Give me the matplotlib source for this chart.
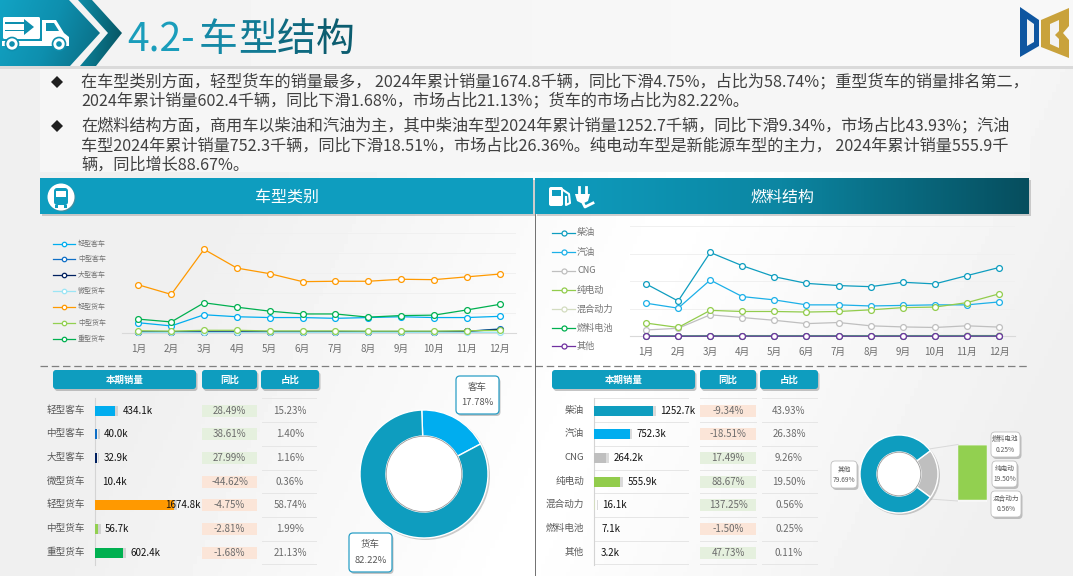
#!/usr/bin/env python3
import numpy as np
import matplotlib
matplotlib.use('Agg')
import matplotlib.pyplot as plt
from matplotlib.patches import Polygon, Rectangle, FancyBboxPatch, Circle
from matplotlib.colors import LinearSegmentedColormap

plt.rcParams['font.family'] = ['Noto Sans CJK SC', 'DejaVu Sans']

W, H = 1073, 576
TEAL = '#0E9DBF'
GRAY_TXT = '#595959'

months = ['1月', '2月', '3月', '4月', '5月', '6月', '7月', '8月', '9月', '10月', '11月', '12月']

# vehicle type, monthly sales (k)
type_names = ['轻型客车', '中型客车', '大型客车', '微型货车', '轻型货车', '中型货车', '重型货车']
type_colors = ['#00ADEF', '#0F6FC6', '#002060', '#9BE5F5', '#FF9900', '#92D050', '#00B050']
light_bus = [25, 17, 45, 40, 38, 38, 36, 38, 40, 38, 38, 41]
medium_bus = [2.5, 2, 3, 3, 3, 3, 3, 3, 3, 3, 3.5, 9.5]
large_bus = [2, 2, 2.5, 3, 2, 2, 2, 2, 2, 2, 3.4, 8]
micro_truck = [1, 0.8, 1, 1, 0.9, 0.9, 0.8, 0.8, 0.8, 0.8, 0.9, 0.9]
light_truck = [120, 96, 209, 162, 148, 128, 129, 129, 134, 133, 140, 147]
medium_truck = [5, 4, 6, 6, 4.5, 4.5, 4.5, 4, 4, 4, 5, 5.7]
heavy_truck = [34, 27, 75, 64, 54, 47, 47, 39, 43, 44, 57, 71]
type_series = [light_bus, medium_bus, large_bus, micro_truck, light_truck, medium_truck, heavy_truck]

type_sales = [434.1, 40.0, 32.9, 10.4, 1674.8, 56.7, 602.4]
type_yoy = [28.49, 38.61, 27.99, -44.62, -4.75, -2.81, -1.68]
type_share = [15.23, 1.40, 1.16, 0.36, 58.74, 1.99, 21.13]

# fuel type, monthly sales (k)
fuel_names = ['柴油', '汽油', 'CNG', '纯电动', '混合动力', '燃料电池', '其他']
fuel_colors = ['#0E9DBF', '#1CB0E8', '#BFBFBF', '#92CC4C', '#D3DCC0', '#00B050', '#7030A0']
diesel = [95, 64, 152, 128, 108, 96, 92, 90, 98, 95, 110, 124.7]
gasoline = [60, 51, 102, 72, 66, 57, 57, 55, 56, 57, 57, 62.3]
cng = [11.5, 14.5, 39, 34, 29, 23, 25, 19, 17, 16, 19, 16.7]
bev = [24, 16, 47, 45, 45, 44, 45, 48, 52, 53, 61, 76.9]
hybrid = [1, 1, 1.4, 1.4, 1.3, 1.3, 1.3, 1.3, 1.4, 1.4, 1.6, 1.6]
fuel_cell = [0.5, 0.4, 0.6, 0.6, 0.6, 0.6, 0.6, 0.6, 0.6, 0.6, 0.6, 0.7]
others = [0.2, 0.2, 0.3, 0.3, 0.3, 0.3, 0.3, 0.2, 0.3, 0.2, 0.3, 0.3]
fuel_series = [diesel, gasoline, cng, bev, hybrid, fuel_cell, others]

fuel_sales = [1252.7, 752.3, 264.2, 555.9, 16.1, 7.1, 3.2]
fuel_yoy = [-9.34, -18.51, 17.49, 88.67, 137.25, -1.50, 47.73]
fuel_share = [43.93, 26.38, 9.26, 19.50, 0.56, 0.25, 0.11]

# donuts
type_donut = [17.78, 82.22]
fuel_donut = [20.31, 79.69]
fuel_stack = [0.56, 19.50, 0.25]

body_lines = [
    '在车型类别方面，轻型货车的销量最多， 2024年累计销量1674.8千辆，同比下滑4.75%，占比为58.74%；重型货车的销量排名第二，',
    '2024年累计销量602.4千辆，同比下滑1.68%，市场占比21.13%；货车的市场占比为82.22%。',
    '在燃料结构方面，商用车以柴油和汽油为主，其中柴油车型2024年累计销量1252.7千辆，同比下滑9.34%，市场占比43.93%；汽油',
    '车型2024年累计销量752.3千辆，同比下滑18.51%，市场占比26.36%。纯电动车型是新能源车型的主力， 2024年累计销量555.9千',
    '辆，同比增长88.67%。',
]

fig = plt.figure(figsize=(W / 100, H / 100), dpi=100)
bg = fig.add_axes([0, 0, 1, 1])
bg.set_xlim(0, W)
bg.set_ylim(H, 0)
bg.axis('off')


def inset(x0, y0, x1, y1):
    # axes placed by pixel box, y0 is the top edge
    ax = fig.add_axes([x0 / W, 1 - y1 / H, (x1 - x0) / W, (y1 - y0) / H])
    ax.patch.set_alpha(0)
    return ax


def gradient(patch, colors, extent, angle=0.0):
    # fill a patch with a horizontal/diagonal gradient
    bg.add_patch(patch)
    patch.set_facecolor('none')
    patch.set_edgecolor('none')
    xx, yy = np.meshgrid(np.linspace(0, 1, 200), np.linspace(0, 1, 100))
    z = xx * np.cos(angle) + yy * np.sin(angle)
    cmap = LinearSegmentedColormap.from_list('g', colors)
    im = bg.imshow(z, extent=extent, cmap=cmap, aspect='auto', zorder=patch.get_zorder())
    im.set_clip_path(patch)
    bg.set_xlim(0, W)
    bg.set_ylim(H, 0)


def round_box(x0, y0, x1, y1, fc, ec='none', lw=0, rad=3, shadow=True, z=3):
    if shadow:
        bg.add_patch(FancyBboxPatch((x0 + 1.5, y0 + 2), x1 - x0, y1 - y0,
                                    boxstyle=f'round,pad=0,rounding_size={rad}',
                                    fc='#808080', ec='none', alpha=0.45, zorder=z - 0.1))
    bg.add_patch(FancyBboxPatch((x0, y0), x1 - x0, y1 - y0,
                                boxstyle=f'round,pad=0,rounding_size={rad}',
                                fc=fc, ec=ec, lw=lw, zorder=z))


# page background
xx, yy = np.meshgrid(np.linspace(0, 1, 256), np.linspace(0, 1, 144))
shade = 0.94 + 0.06 * np.clip(1 - np.abs(xx - 0.55 + 0.25 * (yy - 0.7)) * 2.4, 0, 1)
shade[:17, :] = 0.95 + 0.02 * np.clip(xx[:17, :] * 1.5, 0, 1)
bg.imshow(shade, extent=(0, W, H, 0), cmap='gray', vmin=0, vmax=1, aspect='auto', zorder=0)
bg.set_xlim(0, W)
bg.set_ylim(H, 0)
bg.add_patch(Rectangle((0, 66), W, 3, fc='#DADADA', ec='none', zorder=1))
bg.add_patch(Rectangle((40, 69), 990, 103, fc='#F6F6F6', ec='none', zorder=1))

# title banner
gradient(Polygon([(0, 0), (69, 0), (100, 33), (70, 66), (0, 66)], zorder=2),
         ['#12A3C4', '#0E8FAE', '#0A6A80'], (0, 102, 66, 0), 0.25)
gradient(Polygon([(78, 0), (92, 0), (122, 33), (96, 66), (80, 66), (108, 33)], zorder=2),
         ['#0D8FAB', '#07525F'], (76, 122, 66, 0), 0.2)

# truck icon
bg.add_patch(FancyBboxPatch((3, 17), 37, 22, boxstyle='round,pad=0,rounding_size=1.5', fc='white', ec='none', zorder=4))
bg.add_patch(Polygon([(5, 22), (24, 22), (24, 19), (34, 27), (24, 35), (24, 31), (5, 31)], fc='#0E8FAE', ec='none', zorder=5))
bg.add_patch(Polygon([(5, 23.5), (24, 23.5), (24, 29.5), (5, 29.5)], fc='white', ec='none', zorder=6))
bg.add_patch(Polygon([(42, 20), (56, 20), (64, 33), (69, 37), (69, 46), (2, 46), (2, 41), (42, 41)], fc='white', ec='none', zorder=4))
bg.add_patch(Polygon([(46, 23), (54, 23), (59, 31), (46, 31)], fc='#0E8FAE', ec='none', zorder=5))
for cx in (12, 59):
    bg.add_patch(Circle((cx, 44), 6.5, fc='white', ec='#0E8FAE', lw=1.2, zorder=6))
    bg.add_patch(Circle((cx, 44), 2.8, fc='#0E8FAE', ec='none', zorder=7))

# title, one color per group to follow the gradient
for x, s, c in [(127, '4.2-', '#1A9DBB'), (199, '车', '#1589A6'), (238, '型', '#127A94'),
                (277, '结', '#0F6A80'), (316, '构', '#0C5D70')]:
    bg.text(x, 40, s, fontsize=28, color=c, ha='left', va='center', zorder=5)

# logo
bg.add_patch(Polygon([(1020, 7), (1039, 20), (1039, 46), (1020, 57)], fc='#0F56A0', ec='none', zorder=3))
bg.add_patch(Polygon([(1027, 19), (1034, 24), (1034, 42), (1027, 46)], fc='#F3F3F3', ec='none', zorder=4))
bg.add_patch(Polygon([(1069, 8), (1041, 20), (1041, 47), (1069, 58), (1069, 40), (1063, 33), (1069, 26)], fc='#C9A23C', ec='none', zorder=3))
bg.add_patch(Polygon([(1050, 24), (1059, 20), (1059, 31), (1055, 35), (1059, 39), (1059, 48), (1050, 44)], fc='#F3F3F3', ec='none', zorder=4))

# text block
for y, s in zip([82, 101, 126, 146, 165], body_lines):
    bg.text(81, y, s, fontsize=11.65, color='#404040', ha='left', va='center', zorder=5)
for y in (82, 126):
    bg.add_patch(Polygon([(51, y), (57, y - 6), (63, y), (57, y + 6)], fc='#1F1F1F', ec='none', zorder=5))

# section bars
bg.add_patch(Rectangle((42, 180), 493, 36, fc='#A0A0A0', ec='none', alpha=0.5, zorder=2))
bg.add_patch(Rectangle((537, 180), 494, 36, fc='#A0A0A0', ec='none', alpha=0.5, zorder=2))
bg.add_patch(Rectangle((40, 178), 493, 36, fc=TEAL, ec='none', zorder=3))
gradient(Rectangle((535, 178), 494, 36, zorder=3), [TEAL, '#0C86A2', '#064E5E'], (535, 1029, 214, 178))
bg.text(287, 197, '车型类别', fontsize=11.5, color='white', ha='center', va='center', zorder=5)
bg.text(782, 197, '燃料结构', fontsize=11.5, color='white', ha='center', va='center', zorder=5)

# bus icon
bg.add_patch(Circle((62, 198), 13.5, fc='#808080', ec='none', alpha=0.5, zorder=4))
bg.add_patch(Circle((61, 197), 13.5, fc='white', ec='none', zorder=4))
bg.add_patch(FancyBboxPatch((54, 188), 14, 17, boxstyle='round,pad=0,rounding_size=3', fc=TEAL, ec='none', zorder=5))
bg.add_patch(Rectangle((56, 191), 10, 6, fc='white', ec='none', zorder=6))
bg.add_patch(Rectangle((55, 205), 3, 3, fc=TEAL, ec='none', zorder=5))
bg.add_patch(Rectangle((64, 205), 3, 3, fc=TEAL, ec='none', zorder=5))

# pump and plug icons
bg.add_patch(FancyBboxPatch((549, 187), 14, 19, boxstyle='round,pad=0,rounding_size=2', fc='white', ec='none', zorder=5))
bg.add_patch(Rectangle((551.5, 189.5), 9, 6, fc=TEAL, ec='none', zorder=6))
bg.plot([563, 569, 570, 566, 566], [190, 194, 203, 205, 197], color='white', lw=1.5, zorder=5)
bg.plot([579, 579], [187, 194], color='white', lw=2, zorder=5)
bg.plot([586, 586], [187, 194], color='white', lw=2, zorder=5)
bg.add_patch(Polygon([(575, 194), (590, 194), (588, 201), (584, 203), (581, 203), (577, 201)], fc='white', ec='none', zorder=5))
bg.plot([583, 585, 593], [203, 207, 203], color='white', lw=2, zorder=5)

# separators
bg.plot([40, 1029], [366, 366], color='#7F7F7F', lw=0.9, ls=(0, (6, 3)), zorder=2)
bg.plot([534.5, 534.5], [214, 576], color='#595959', lw=0.6, zorder=2)


def line_chart(box, ymax, step, series, colors, tick_y):
    ax = inset(*box)
    for vals, c in zip(series, colors):
        ax.plot(range(12), vals, color=c, lw=0.9, marker='o', ms=4.2, mfc='white',
                mec=c, mew=0.9, clip_on=False, zorder=3)
    ax.set_xlim(-0.5, 11.5)
    ax.set_ylim(0, ymax)
    ax.set_yticks(np.arange(0, ymax + 1, step))
    ax.set_yticklabels([])
    ax.yaxis.grid(True, color='#F0F0F0', lw=0.7)
    ax.set_axisbelow(True)
    ax.tick_params(length=0)
    ax.set_xticks(range(12))
    ax.set_xticklabels(months, fontsize=7, color='#6E6E6E')
    ax.tick_params(axis='x', pad=tick_y)
    for s in ('top', 'left', 'right'):
        ax.spines[s].set_visible(False)
    ax.spines['bottom'].set_color('#D9D9D9')
    ax.spines['bottom'].set_linewidth(0.8)


line_chart((122, 233, 516, 332.7), 250, 50, type_series, type_colors, 8)
line_chart((630, 226, 1015, 336.3), 200, 50, fuel_series, fuel_colors, 7.5)

# line chart legends
for y, name, c in zip([243.7, 259.3, 275, 291, 307, 322.7, 339], type_names, type_colors):
    bg.plot([53, 75], [y, y], color=c, lw=0.9, zorder=3)
    bg.plot([64], [y], marker='o', ms=3.2, mfc='white', mec=c, mew=0.9, zorder=4)
    bg.text(78, y, name, fontsize=5, color='#737373', va='center', zorder=4)
for y, name, c in zip([232.7, 252, 270.7, 290, 309, 328, 346], fuel_names, fuel_colors):
    bg.plot([552, 575], [y, y], color=c, lw=0.9, zorder=3)
    bg.plot([563.5], [y], marker='o', ms=3.6, mfc='white', mec=c, mew=0.9, zorder=4)
    bg.text(577, y, name, fontsize=6.6, color='#737373', va='center', zorder=4)

row_y = [410.7, 434.3, 458.3, 481.7, 505.3, 529, 552.7]
PX_PER_K = 0.0472


def table(names, sales, yoy, share, colors, x_axis, label_x, heads, yoy_box, share_x, rules):
    for (x0, x1), s in zip(heads, ['本期销量', '同比', '占比']):
        round_box(x0, 370, x1, 389, TEAL, rad=3)
        bg.text((x0 + x1) / 2, 379.5, s, fontsize=6.8, color='white', weight='bold',
                ha='center', va='center', zorder=5)
    # bars, one unit of sales on a true axis
    ax = inset(x_axis, 398, x_axis + 110, 565)
    ax.set_xlim(0, 110 / PX_PER_K)
    ax.set_ylim(565, 398)
    ax.axis('off')
    ax.barh(row_y, sales, left=60, height=10, color='#9A9A9A', alpha=0.35, zorder=1)
    ax.barh(row_y, sales, height=10, color=colors, zorder=2)
    for y, v in zip(row_y, sales):
        end = min(v * PX_PER_K + 7, 102 - 32)
        ax.annotate(f'{v:.1f}k', (0, y), xytext=(end * 0.72, 0), textcoords='offset points',
                    fontsize=7, color='#111111', va='center', annotation_clip=False, zorder=4)
    bg.plot([x_axis - 0.5, x_axis - 0.5], [398, 565], color='#D4D4D4', lw=0.8, zorder=3)
    for y, n, yv, sh in zip(row_y, names, yoy, share):
        bg.text(label_x, y - 0.7, n, fontsize=6.9, color=GRAY_TXT, ha='right', va='center', zorder=4)
        bg.add_patch(Rectangle((yoy_box[0], y - 6), yoy_box[1] - yoy_box[0], 12,
                               fc='#E5F0DE' if yv > 0 else '#FBE5D8', ec='none', zorder=3))
        bg.text(sum(yoy_box) / 2, y, f'{yv:.2f}%', fontsize=7, color='#6B6B6B',
                ha='center', va='center', zorder=4)
        bg.text(share_x, y, f'{sh:.2f}%', fontsize=7, color='#6B6B6B',
                ha='center', va='center', zorder=4)
    for x0, x1 in rules:
        for y in [398.3, 422.3, 445.7, 469.7, 493.3, 516.7, 540.7, 564.3]:
            bg.plot([x0, x1], [y, y], color='#E6E6E6', lw=0.7, zorder=2)


table(type_names, type_sales, type_yoy, type_share, type_colors, 95, 85,
      [(53, 196), (202, 257), (261, 319)], (202, 257), 290, [(262, 316)])
table(fuel_names, fuel_sales, fuel_yoy, fuel_share,
      ['#0E9DBF', '#00ADEF', '#BFBFBF', '#92CC4C', '#D3DCC0', '#00B050', '#7030A0'], 594, 584,
      [(552, 695), (700, 756), (760, 818)], (700, 756), 789, [(594, 688), (700, 756), (762, 817)])


def donut(cx, cy, r_out, r_in, vals, colors, start):
    size = r_out * 2 + 4
    ax = inset(cx - size / 2, cy - size / 2, cx + size / 2, cy + size / 2)
    ax.set_xlim(-size / 2, size / 2)
    ax.set_ylim(-size / 2, size / 2)
    ax.axis('off')
    ax.add_patch(Circle((1.5, -1.5), r_out + 0.5, fc='#8C8C8C', ec='none', alpha=0.45))
    ax.pie(vals, colors=colors, startangle=start, counterclock=False, radius=r_out,
           center=(0, 0), frame=True, wedgeprops=dict(width=r_out - r_in, ec='white', lw=1))
    ax.set_xlim(-size / 2, size / 2)
    ax.set_ylim(-size / 2, size / 2)
    ax.axis('off')
    ax.add_patch(Circle((0, 0), r_in - 0.2, fc='white', ec='#9A9A9A', lw=0.6, zorder=5))


def callout(x0, y0, x1, y1, name, pct, fs, ec='#2A9FC6', lw=0.9, rad=4):
    round_box(x0, y0, x1, y1, 'white', ec=ec, lw=lw, rad=rad, z=6)
    h = y1 - y0
    bg.text((x0 + x1) / 2, y0 + h * 0.3, name, fontsize=fs, color=GRAY_TXT, ha='center', va='center', zorder=7)
    bg.text((x0 + x1) / 2, y0 + h * 0.7, pct, fontsize=fs, color=GRAY_TXT, ha='center', va='center', zorder=7)


donut(424, 474, 64, 38, type_donut, ['#00ADEF', TEAL], 92)
callout(456, 376, 499, 414, '客车', f'{type_donut[0]:.2f}%', 6.8)
callout(349, 533, 392, 572, '货车', f'{type_donut[1]:.2f}%', 6.8)

donut(899, 474, 39, 22, fuel_donut, ['#BFBFBF', TEAL], 36.6)
bg.plot([929, 958], [449, 444.5], color='#D9D9D9', lw=0.7, zorder=2)
bg.plot([929, 958], [499, 501], color='#D9D9D9', lw=0.7, zorder=2)

# stacked column beside the right donut
ax_col = inset(958, 444.5, 987, 501.5)
ax_col.axis('off')
ax_col.set_xlim(-0.5, 0.5)
ax_col.set_ylim(0, sum(fuel_stack))
bottom = 0
for v, c in zip(fuel_stack, ['#F4F4F4', '#92D050', '#D9D9D9']):
    ax_col.bar(0, v, bottom=bottom, width=1, color=c, ec='white', lw=0.3)
    bottom += v

callout(831, 461, 857, 488, '其他', f'{fuel_donut[1]:.2f}%', 4.8, ec='#BFBFBF', lw=0.6)
callout(991, 432, 1020, 457, '燃料电池', f'{fuel_stack[2]:.2f}%', 4.8, ec='#BFBFBF', lw=0.6)
callout(992, 461, 1017, 487, '纯电动', f'{fuel_stack[1]:.2f}%', 4.8, ec='#BFBFBF', lw=0.6)
callout(991, 491, 1021, 517, '混合动力', f'{fuel_stack[0]:.2f}%', 4.8, ec='#BFBFBF', lw=0.6)

fig.savefig('out.png', dpi=100)
